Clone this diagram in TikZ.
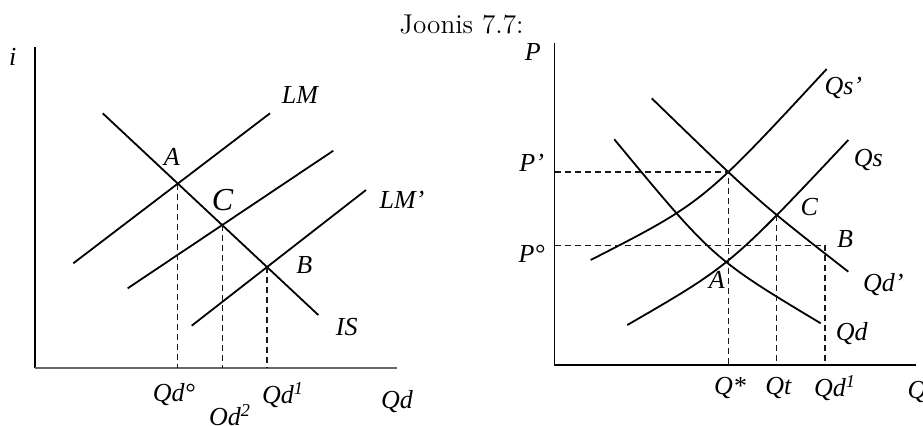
\documentclass[tikz,border=0pt]{standalone}
\usepackage{fontspec}
\newfontfamily\tm{Liberation Serif}
\usetikzlibrary{intersections}
\tikzset{
  curve/.style={line width=0.9pt, black},
  axis/.style={line width=0.75pt, black},
  guide/.style={line width=0.6pt, black!90, dash pattern=on 3pt off 2pt},
  lbl/.style={inner sep=0pt, font=\tm\fontsize{13}{15}\selectfont\itshape},
  biglbl/.style={inner sep=0pt, font=\tm\fontsize{16}{18}\selectfont\itshape},
}
\begin{document}
\begin{tikzpicture}[x=0.5pt,y=-0.5pt]
\useasboundingbox (0,0) rectangle (923,425);
% title
\node[anchor=base, inner sep=0pt, font=\fontsize{13.6}{15}\selectfont] (title) at (461.5,33) {Joonis 7.7:};

% ---------------- left panel ----------------
\coordinate (lO) at (35,368.3);
\coordinate (lY) at (35,46.7);
\coordinate (lX) at (397.3,368.3);
\draw[axis] (lY) -- (lO);
\draw[line width=1pt, black!60] (lO) -- (lX);

\draw[curve, name path=LM] (73.3,263.3) coordinate (lm1) -- (270,113.3) coordinate (lm2);
\draw[curve, name path=LMm] (127.7,288.3) coordinate (lmm1) -- (333.3,150.7) coordinate (lmm2);
\draw[curve, name path=LMp] (191.7,325.7) coordinate (lmp1) -- (366,190) coordinate (lmp2);
\draw[curve, name path=IS] (102.7,113.3) coordinate (is1) -- (318.3,315) coordinate (is2);

\path[name intersections={of=LM and IS, by=lA}];
\path[name intersections={of=LMm and IS, by=lC}];
\path[name intersections={of=LMp and IS, by=lB}];

\draw[guide] (lA) -- (lA |- lO);
\draw[guide] (lC) -- (lC |- lO);
\draw[guide] (lB) -- (lB |- lO);

\node[lbl] (li) at (12.7,56.7) {i};
\node[lbl] (lLM) at (300,95) {LM};
\node[lbl] (lAl) at (171.7,156.7) {A};
\node[biglbl] (lCl) at (222.5,200) {C};
\node[lbl] (lLMp) at (402,200) {LM’};
\node[lbl] (lBl) at (304.3,265) {B};
\node[lbl] (lIS) at (346.7,326.7) {IS};
\node[lbl] (lQd0) at (174,395) {Qd°};
\node[lbl] (lOd2) at (230,415) {Od\textsuperscript{2}};
\node[lbl] (lQd1) at (283,395) {Qd\textsuperscript{1}};
\node[lbl] (lQd) at (397,401.7) {Qd};

% ---------------- right panel ----------------
\coordinate (rO) at (554.7,365);
\coordinate (rY) at (554.7,43);
\coordinate (rX) at (916,365);
\draw[axis] (rY) -- (rO) -- (rX);

\draw[curve, name path=Qsp] (590.7,260) coordinate (qsp1) .. controls (703,202.5) .. (826.7,69) coordinate (qsp2);
\draw[curve, name path=Qs] (627.3,325) coordinate (qs1) .. controls (730.2,265.5) .. (848.3,140) coordinate (qs2);
\draw[curve, name path=Qdp] (651.7,98.3) coordinate (qdp1) .. controls (757.5,200.9) .. (848.3,271.7) coordinate (qdp2);
\draw[curve, name path=Qd] (614.3,139.3) coordinate (qd1) .. controls (713.1,258.7) .. (820.7,323.3) coordinate (qd2);

\path[name intersections={of=Qsp and Qdp, by=rT}];
\path[name intersections={of=Qs and Qd, by=rA}];
\path[name intersections={of=Qs and Qdp, by=rC}];

\coordinate (rP0) at (554.7,245.7);
\coordinate (rB) at (825,245.7);

\draw[guide] (rT -| rO) -- (rT) -- (rT |- rO);
\draw[guide] (rP0) -- (rB) -- (rB |- rO);
\draw[guide] (rC) -- (rC |- rO);

\node[lbl] (rP) at (532.7,51.7) {P};
\node[lbl] (rPp) at (531.7,163) {P’};
\node[lbl] (rPo) at (531.7,254) {P°};
\node[lbl] (rQsp) at (843.3,88.3) {Qs’};
\node[lbl] (rQs) at (868.3,160) {Qs};
\node[lbl] (rCl) at (809.3,207.3) {C};
\node[lbl] (rBl) at (845,239.3) {B};
\node[lbl] (rQdp) at (883.3,285) {Qd’};
\node[lbl] (rQd) at (851.7,333.3) {Qd};
\node[lbl] (rAl) at (716.7,280) {A};
\node[lbl] (rQs*) at (730,388.3) {Q*};
\node[lbl] (rQt) at (778.3,388.3) {Qt};
\node[lbl] (rQd1) at (835,388.3) {Qd\textsuperscript{1}};
\node[lbl] (rQ) at (917,391.7) {Q};
\end{tikzpicture}
\end{document}
